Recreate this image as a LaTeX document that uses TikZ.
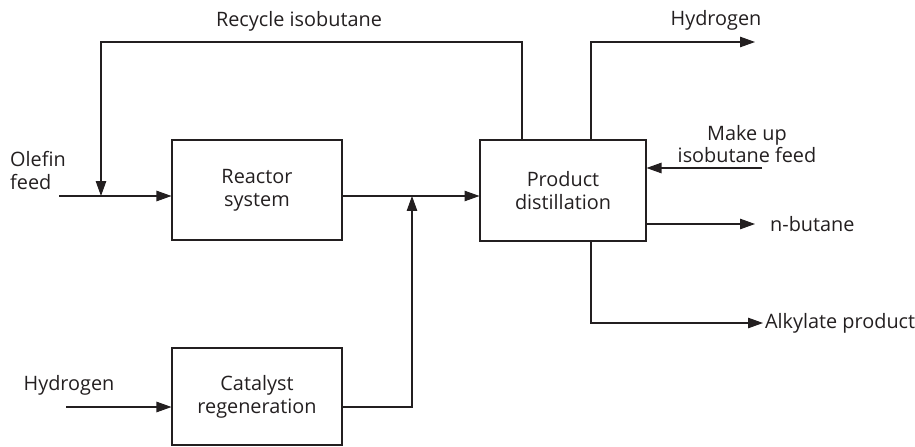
\documentclass[tikz,border=0pt]{standalone}
\usepackage{fontspec}
\setmainfont{Open Sans}
\usetikzlibrary{arrows.meta,positioning}
\definecolor{ink}{HTML}{231F20}
\begin{document}
\begin{tikzpicture}[x=0.02cm, y=-0.02cm,
        font=\fontsize{11.3}{13}\selectfont, color=ink,
        block/.style={rectangle, draw, text width=3cm, align=center, minimum width=3.4cm, minimum height=2cm, line width=0.6pt},
        line/.style={draw, line width=0.6pt, -{Triangle[length=0.3cm, width=0.21cm]}}]

        \useasboundingbox (0,0) rectangle (915,446);

        \node [block] (reactor) at (257,190) {Reactor\\system};
        \node [block, minimum width=3.32cm, minimum height=2.02cm] (distill) at (563,190.5) {Product\\distillation};
        \node [block, minimum height=1.94cm] (catalyst) at (257,396.5) {Catalyst\\regeneration};

        % feed points and turning points
        \coordinate (olefin) at (59,196);
        \coordinate (hyin) at (66,407);
        \coordinate (recycle) at (101,42);
        \coordinate (join) at (412,196);
        \coordinate (hyout) at (755,42);
        \coordinate (makeup) at (762,168);
        \coordinate (butane) at (755,224);
        \coordinate (alkylate) at (763,323);

        \node [align=left, anchor=south west] (olefinlbl) at (4,196) {Olefin\\feed};
        \node (hyinlbl) at (69,385) {Hydrogen};
        \node (recyclelbl) at (299,21) {Recycle isobutane};
        \node (hyoutlbl) at (716,20) {Hydrogen};
        \node [align=center] (makeuplbl) at (747,144) {Make up\\isobutane feed};
        \node [anchor=west] (butanelbl) at (764,224) {n-butane};
        \node [anchor=west, inner sep=1pt] (alkylatelbl) at (alkylate) {Alkylate product};

        \path [line] (olefin) -- (olefin -| reactor.west);
        \path [line] (distill.north -| 522,0) |- (recycle) -- (recycle |- olefin);
        \path [line] (reactor.east |- olefin) -- (distill.west |- olefin);
        \path [line] (hyin) -- (hyin -| catalyst.west);
        \path [line] (catalyst.east |- hyin) -| (join);
        \path [line] (distill.north -| 591,0) |- (hyout);
        \path [line] (makeup) -- (makeup -| distill.east);
        \path [line] (distill.east |- butane) -- (butane);
        \path [line] (distill.south -| 591,0) |- (alkylatelbl.west);
    \end{tikzpicture}
\end{document}
